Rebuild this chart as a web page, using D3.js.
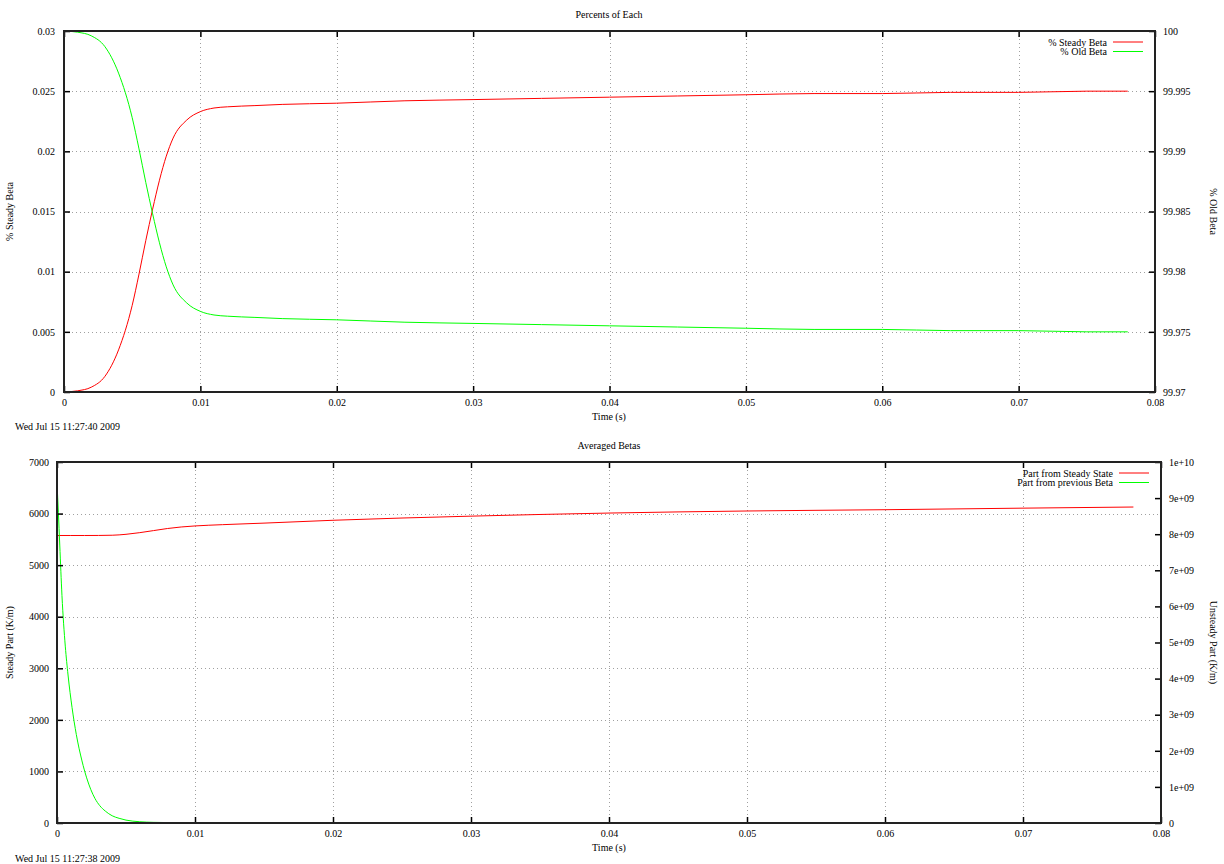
<!DOCTYPE html>
<html>
<head>
<meta charset="utf-8">
<script src="https://cdn.jsdelivr.net/npm/d3@7"></script>
<style>
html,body{margin:0;padding:0;background:#fff;}
svg{display:block;}
text{font-family:"Liberation Serif","DejaVu Serif",serif;font-size:10px;fill:#000;}
</style>
</head>
<body>
<svg id="chart" width="1224" height="864"></svg>
<script>
// ---------- DATA ----------
// Top chart: "Percents of Each"
const topTime = [0,0.001,0.002,0.003,0.004,0.005,0.0055,0.006,0.0065,0.007,0.0075,0.008,0.009,0.010,0.011,0.012,0.014,0.016,0.02,0.025,0.03,0.035,0.04,0.045,0.05,0.055,0.06,0.065,0.07,0.075,0.078];
const steadyBeta = [0,0.0001,0.0004,0.0013,0.0035,0.0072,0.0098,0.0126,0.0152,0.0176,0.0196,0.0211,0.0226,0.0233,0.0236,0.0237,0.0238,0.0239,0.0240,0.0242,0.0243,0.0244,0.0245,0.0246,0.0247,0.0248,0.0248,0.0249,0.0249,0.0250,0.0250];
const oldBeta = [100,99.9999,99.9996,99.9987,99.9965,99.9928,99.9902,99.9874,99.9848,99.9824,99.9804,99.9789,99.9774,99.9767,99.9764,99.9763,99.9762,99.9761,99.9760,99.9758,99.9757,99.9756,99.9755,99.9754,99.9753,99.9752,99.9752,99.9751,99.9751,99.9750,99.9750];
const topLeftTicks = [0,0.005,0.01,0.015,0.02,0.025,0.03];
const topLeftLabels = ["0","0.005","0.01","0.015","0.02","0.025","0.03"];
const topRightTicks = [99.97,99.975,99.98,99.985,99.99,99.995,100];
const topRightLabels = ["99.97","99.975","99.98","99.985","99.99","99.995","100"];

// Bottom chart: "Averaged Betas"
const steadyTime = [0,0.00005,0.001,0.002,0.003,0.004,0.005,0.006,0.007,0.008,0.009,0.010,0.012,0.015,0.02,0.03,0.04,0.05,0.06,0.07,0.078];
const steadyPart = [0,5575,5575,5575,5576,5580,5598,5630,5670,5710,5740,5760,5785,5815,5870,5950,6010,6050,6075,6105,6127];
const prevTime = [0,0.0001,0.0002,0.00036,0.0006,0.0008,0.00109,0.0014,0.00181,0.00215,0.00275,0.0031,0.0035,0.004,0.0045,0.005,0.006,0.007,0.008,0.01,0.02,0.04,0.06,0.078];
const prevPart = [9.42e9,8.6e9,7.7e9,6.3e9,4.9e9,4.1e9,3.2e9,2.45e9,1.72e9,1.25e9,6.8e8,4.8e8,3.3e8,2.0e8,1.3e8,8e7,3.5e7,1.8e7,1.2e7,8e6,6e6,5e6,5e6,5e6];
const botLeftTicks = [0,1000,2000,3000,4000,5000,6000,7000];
const botLeftLabels = ["0","1000","2000","3000","4000","5000","6000","7000"];
const botRightTicks = [0,1e9,2e9,3e9,4e9,5e9,6e9,7e9,8e9,9e9,1e10];
const botRightLabels = ["0","1e+09","2e+09","3e+09","4e+09","5e+09","6e+09","7e+09","8e+09","9e+09","1e+10"];

const timeTicks = [0,0.01,0.02,0.03,0.04,0.05,0.06,0.07,0.08];
const timeLabels = ["0","0.01","0.02","0.03","0.04","0.05","0.06","0.07","0.08"];

// ---------- DRAW ----------
const svg = d3.select("#chart");
const RED = "#ff0000", GREEN = "#00ff00";

function panel(cfg) {
  const g = svg.append("g");
  const x = d3.scaleLinear().domain([0, 0.08]).range([cfg.x0, cfg.x1]);
  const yL = d3.scaleLinear().domain(cfg.leftDomain).range([cfg.y1, cfg.y0]);
  const yR = d3.scaleLinear().domain(cfg.rightDomain).range([cfg.y1, cfg.y0]);

  // grid
  const grid = g.append("g").attr("stroke", "#a0a0a0").attr("stroke-width", 1).attr("stroke-dasharray", "1,3");
  timeTicks.slice(1, -1).forEach(t => {
    grid.append("line").attr("x1", Math.round(x(t)) + 0.5).attr("x2", Math.round(x(t)) + 0.5)
      .attr("y1", cfg.y0).attr("y2", cfg.y1);
  });
  cfg.leftTicks.slice(1, -1).forEach(v => {
    grid.append("line").attr("y1", Math.round(yL(v)) + 0.5).attr("y2", Math.round(yL(v)) + 0.5)
      .attr("x1", cfg.x0).attr("x2", cfg.x1);
  });

  // series
  const clipId = "clip" + cfg.id;
  svg.append("clipPath").attr("id", clipId).append("rect")
    .attr("x", cfg.x0).attr("y", cfg.y0 - 1).attr("width", cfg.x1 - cfg.x0).attr("height", cfg.y1 - cfg.y0 + 2);
  cfg.series.forEach(s => {
    const ys = s.axis === "left" ? yL : yR;
    const line = d3.line().x((d, i) => x(s.t[i])).y(d => ys(d)).curve(d3.curveMonotoneX);
    g.append("path").datum(s.v).attr("d", line).attr("fill", "none")
      .attr("stroke", s.color).attr("stroke-width", 1).attr("clip-path", `url(#${clipId})`);
  });

  // axes (inward ticks)
  const tl = 6;
  const axB = d3.axisBottom(x).tickValues(timeTicks).tickSize(-tl).tickFormat((d, i) => timeLabels[i]).tickPadding(7);
  const axT = d3.axisTop(x).tickValues(timeTicks).tickSize(-tl).tickFormat("");
  const axL = d3.axisLeft(yL).tickValues(cfg.leftTicks).tickSize(-tl).tickFormat((d, i) => cfg.leftLabels[i]).tickPadding(cfg.padL);
  const axR = d3.axisRight(yR).tickValues(cfg.rightTicks).tickSize(-tl).tickFormat((d, i) => cfg.rightLabels[i]).tickPadding(8);
  const styleAxis = sel => {
    sel.select(".domain").remove();
    sel.selectAll(".tick line").attr("stroke", "#000").attr("stroke-width", 1.5);
    sel.selectAll(".tick text").style("font-family", '"Liberation Serif","DejaVu Serif",serif').style("font-size", "10px").attr("fill", "#000");
  };
  g.append("g").attr("transform", `translate(0,${cfg.y1})`).call(axB).call(styleAxis);
  g.append("g").attr("transform", `translate(0,${cfg.y0})`).call(axT).call(styleAxis);
  g.append("g").attr("transform", `translate(${cfg.x0},0)`).call(axL).call(styleAxis);
  g.append("g").attr("transform", `translate(${cfg.x1},0)`).call(axR).call(styleAxis);

  // border
  g.append("rect").attr("x", cfg.x0).attr("y", cfg.y0).attr("width", cfg.x1 - cfg.x0).attr("height", cfg.y1 - cfg.y0)
    .attr("fill", "none").attr("stroke", "#222").attr("stroke-width", 2);

  // titles
  g.append("text").attr("x", 609).attr("y", cfg.y0 - 13).attr("text-anchor", "middle").text(cfg.title);
  g.append("text").attr("x", 609).attr("y", cfg.y1 + 28).attr("text-anchor", "middle").text("Time (s)");
  g.append("text").attr("transform", `translate(13,${(cfg.y0 + cfg.y1) / 2}) rotate(-90)`).attr("text-anchor", "middle").text(cfg.leftLabel);
  g.append("text").attr("transform", `translate(1210,${(cfg.y0 + cfg.y1) / 2}) rotate(90)`).attr("text-anchor", "middle").text(cfg.rightLabel);
  g.append("text").attr("x", 15).attr("y", cfg.stampY).text(cfg.stamp);

  // legend
  cfg.series.forEach((s, i) => {
    const ly = cfg.y0 + cfg.legendDy + i * 9.5;
    g.append("text").attr("x", cfg.legendX).attr("y", ly + 3.5).attr("text-anchor", "end").text(s.name);
    g.append("line").attr("x1", cfg.legendX + 6).attr("x2", cfg.legendX + 36).attr("y1", ly).attr("y2", ly)
      .attr("stroke", s.color).attr("stroke-width", 1);
  });
}

panel({
  id: "top", x0: 64, x1: 1155, y0: 31, y1: 392,
  leftDomain: [0, 0.03], rightDomain: [99.97, 100],
  leftTicks: topLeftTicks, leftLabels: topLeftLabels,
  rightTicks: topRightTicks, rightLabels: topRightLabels,
  title: "Percents of Each", leftLabel: "% Steady Beta", rightLabel: "% Old Beta",
  stamp: "Wed Jul 15 11:27:40 2009", stampY: 430, padL: 9,
  legendX: 1107, legendDy: 11,
  series: [
    {name: "% Steady Beta", t: topTime, v: steadyBeta, axis: "left", color: RED},
    {name: "% Old Beta", t: topTime, v: oldBeta, axis: "right", color: GREEN}
  ]
});

panel({
  id: "bot", x0: 57, x1: 1161, y0: 462, y1: 823,
  leftDomain: [0, 7000], rightDomain: [0, 1e10],
  leftTicks: botLeftTicks, leftLabels: botLeftLabels,
  rightTicks: botRightTicks, rightLabels: botRightLabels,
  title: "Averaged Betas", leftLabel: "Steady Part (K/m)", rightLabel: "Unsteady Part (K/m)",
  stamp: "Wed Jul 15 11:27:38 2009", stampY: 862, padL: 8,
  legendX: 1113, legendDy: 11,
  series: [
    {name: "Part from Steady State", t: steadyTime, v: steadyPart, axis: "left", color: RED},
    {name: "Part from previous Beta", t: prevTime, v: prevPart, axis: "right", color: GREEN}
  ]
});
</script>
</body>
</html>
